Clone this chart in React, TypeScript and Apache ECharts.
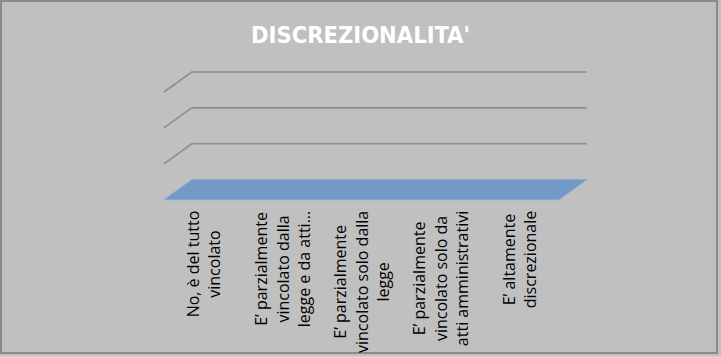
import React, { useEffect, useRef } from "react";
import * as echarts from "echarts";

const TITLE = "DISCREZIONALITA'";
const categories = [
  "No, è del tutto\nvincolato",
  "E’ parzialmente\nvincolato dalla\nlegge e da atti...",
  "E’ parzialmente\nvincolato solo dalla\nlegge",
  "E’ parzialmente\nvincolato solo da\natti amministrativi",
  "E’ altamente\ndiscrezionale",
];
const values = [0, 0, 0, 0, 0];
const yTicks = [0, 1, 2, 3];

const DX = 27.7;
const DY = -20;

export default function App() {
  const ref = useRef<HTMLDivElement>(null);
  useEffect(() => {
    if (!ref.current) return;
    const chart = echarts.init(ref.current, undefined, { renderer: "svg" });
    const nCat = categories.length;
    const option: any = {
      animation: false,
      backgroundColor: "#c0c0c0",
      title: {
        text: TITLE,
        left: "center",
        top: 18,
        textStyle: {
          color: "#ffffff",
          fontWeight: "bold",
          fontSize: 23.5,
          fontFamily: "'DejaVu Sans Condensed', sans-serif",
        },
      },
      graphic: [
        {
          type: "rect",
          shape: { x: 1, y: 1, width: 716, height: 352 },
          style: { fill: "none", stroke: "#8a8a8a", lineWidth: 2 },
          silent: true,
        },
      ],
      grid: { left: 164, right: 162, top: 92, bottom: 152, containLabel: false },
      xAxis: {
        type: "category",
        data: categories,
        axisLine: { show: false },
        axisTick: { show: false },
        splitLine: { show: false },
        axisLabel: {
          interval: 0,
          rotate: 90,
          margin: 11,
          fontSize: 16,
          lineHeight: 21.7,
          color: "#000000",
          fontFamily: "'Open Sans', sans-serif",
          formatter: (v: string) =>
            v
              .split("\n")
              .map((l) => `{c|${l}}`)
              .join("\n"),
          rich: {
            c: {
              align: "center",
              fontSize: 16,
              lineHeight: 21.7,
              color: "#000000",
              fontFamily: "'Open Sans', sans-serif",
            },
          },
        },
      },
      yAxis: {
        type: "value",
        min: 0,
        max: 3,
        interval: 1,
        axisLine: { show: false },
        axisTick: { show: false },
        axisLabel: { show: false },
        splitLine: { show: false },
      },
      series: [
        {
          type: "custom",
          silent: true,
          encode: { x: 0, y: 1 },
          data: yTicks.filter((t) => t > 0).map((t) => [0, t]),
          renderItem: (params: any, api: any) => {
            const v = api.value(1);
            const p = api.coord([0, v]);
            const w = api.size([1, 0])[0];
            const xl = p[0] - w / 2;
            const xr = xl + w * nCat;
            return {
              type: "polyline",
              shape: {
                points: [
                  [xl, p[1]],
                  [xl + DX, p[1] + DY],
                  [xr + DX, p[1] + DY],
                ],
              },
              style: { stroke: "#8e8e8e", lineWidth: 1.6, fill: "none" },
            };
          },
        },
        {
          type: "custom",
          silent: true,
          encode: { x: 0, y: 1 },
          data: [[0, 0]],
          renderItem: (params: any, api: any) => {
            const p = api.coord([0, api.value(1)]);
            const w = api.size([1, 0])[0];
            const xl = p[0] - w / 2;
            const xr = xl + w * nCat;
            return {
              type: "polygon",
              shape: {
                points: [
                  [xl, p[1]],
                  [xr, p[1]],
                  [xr + DX, p[1] + DY],
                  [xl + DX, p[1] + DY],
                ],
              },
              style: { fill: "#7399c6", stroke: "#8aa9cf", lineWidth: 1 },
            };
          },
        },
        {
          type: "bar",
          data: values,
          barWidth: "50%",
          itemStyle: { color: "#4f81bd" },
        },
      ],
    };
    chart.setOption(option);
    return () => chart.dispose();
  }, []);
  return (
    <div
      ref={ref}
      style={{ position: "fixed", left: 0, top: 0, width: 721, height: 356 }}
    />
  );
}
